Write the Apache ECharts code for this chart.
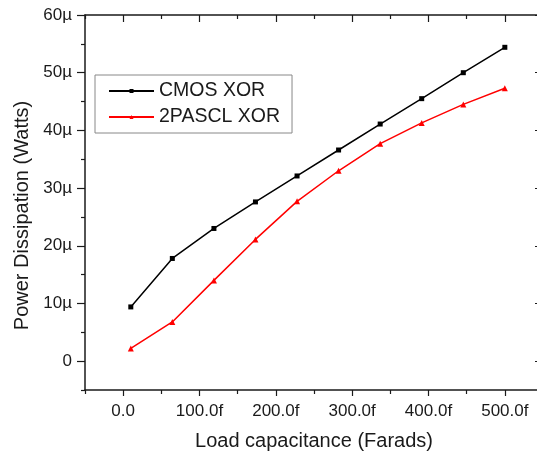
<!DOCTYPE html>
<html>
<head>
<meta charset="utf-8">
<script src="https://cdn.jsdelivr.net/npm/echarts@6/dist/echarts.min.js"></script>
<style>
html,body{margin:0;padding:0;background:#fff;}
#chart{width:537px;height:456px;}
</style>
</head>
<body>
<div id="chart"></div>
<script>
// Load capacitance (fF)
const loadCap = [10, 64.4, 118.9, 173.3, 227.8, 282.2, 336.7, 391.1, 445.6, 500];
// Power dissipation (µW)
const cmosXor = [9.4, 17.8, 23.0, 27.6, 32.1, 36.6, 41.1, 45.5, 50.0, 54.4];
const pasclXor = [2.2, 6.8, 14.0, 21.1, 27.7, 33.0, 37.7, 41.3, 44.5, 47.3];
const seriesNames = ['CMOS XOR', '2PASCL XOR'];

const xTickValues = [0, 100, 200, 300, 400, 500];
const xTickLabels = ['0.0', '100.0f', '200.0f', '300.0f', '400.0f', '500.0f'];
const xMinorValues = [-50, 50, 150, 250, 350, 450, 550];
const yTickValues = [0, 10, 20, 30, 40, 50, 60];
const yTickLabels = ['0', '10µ', '20µ', '30µ', '40µ', '50µ', '60µ'];
const yMinorValues = [-5, 5, 15, 25, 35, 45, 55];

const FONT = 'Liberation Sans, Arial, sans-serif';
const AX = '#1a1a1a';

function pairs(xs, ys) { return xs.map((x, i) => [x, ys[i]]); }

function xAx(pos, values, len, inside, labels, line) {
  return {
    type: 'value', position: pos, min: -50, max: 550,
    axisLine: { show: line, onZero: false, lineStyle: { color: AX, width: 1.5 } },
    axisTick: { show: true, customValues: values, length: len, inside: inside, lineStyle: { color: AX, width: 1.2 } },
    axisLabel: labels ? {
      show: true, customValues: xTickValues, margin: 13,
      fontFamily: FONT, fontSize: 17, color: AX,
      formatter: v => xTickLabels[xTickValues.indexOf(v)]
    } : { show: false },
    splitLine: { show: false }
  };
}
function yAx(pos, values, len, inside, labels, line) {
  return {
    type: 'value', position: pos, min: -5, max: 60,
    axisLine: { show: line, onZero: false, lineStyle: { color: AX, width: 1.5 } },
    axisTick: { show: true, customValues: values, length: len, inside: inside, lineStyle: { color: AX, width: 1.2 } },
    axisLabel: labels ? {
      show: true, customValues: yTickValues, margin: 13,
      fontFamily: FONT, fontSize: 17, color: AX,
      formatter: v => yTickLabels[yTickValues.indexOf(v)]
    } : { show: false },
    splitLine: { show: false }
  };
}

const xAxes = [
  xAx('bottom', xTickValues, 6, false, true, true),
  xAx('bottom', xMinorValues, 4, false, false, false),
  xAx('top', xTickValues, 7, true, false, true),
  xAx('top', xMinorValues, 4, true, false, false)
];
xAxes[0].name = 'Load capacitance (Farads)';
xAxes[0].nameLocation = 'middle';
xAxes[0].nameGap = 41;
xAxes[0].nameTextStyle = { fontFamily: FONT, fontSize: 20, color: AX };

const yAxes = [
  yAx('left', yTickValues, 8, false, true, true),
  yAx('left', yMinorValues, 4, false, false, false),
  yAx('right', yTickValues, 8, true, false, true),
  yAx('right', yMinorValues, 4, true, false, false)
];
yAxes[0].name = 'Power Dissipation (Watts)';
yAxes[0].nameLocation = 'middle';
yAxes[0].nameGap = 52;
yAxes[0].nameTextStyle = { fontFamily: FONT, fontSize: 20, color: AX, padding: [0, 26, 0, 0] };

const chart = echarts.init(document.getElementById('chart'), null, { renderer: 'canvas' });
chart.setOption({
  animation: false,
  backgroundColor: '#fff',
  grid: { left: 85, right: -6, top: 15, bottom: 66, containLabel: false, outerBoundsMode: 'none' },
  legend: {
    left: 95, top: 75,
    orient: 'vertical',
    data: seriesNames,
    itemWidth: 45, itemHeight: 5, itemGap: 6, itemTextGap: 6,
    padding: [6, 12, 6, 13],
    borderColor: '#888', borderWidth: 1, borderRadius: 0,
    textStyle: { fontFamily: FONT, fontSize: 19.5, color: AX, lineHeight: 20 }
  },
  xAxis: xAxes,
  yAxis: yAxes,
  series: [
    {
      name: seriesNames[0], type: 'line', xAxisIndex: 0, yAxisIndex: 0,
      data: pairs(loadCap, cmosXor),
      symbol: 'rect', symbolSize: 5,
      lineStyle: { color: '#000', width: 1.5 },
      itemStyle: { color: '#000' }
    },
    {
      name: seriesNames[1], type: 'line', xAxisIndex: 0, yAxisIndex: 0,
      data: pairs(loadCap, pasclXor),
      symbol: 'triangle', symbolSize: 6,
      lineStyle: { color: '#ff0000', width: 1.5 },
      itemStyle: { color: '#ff0000' }
    }
  ]
});
</script>
</body>
</html>
